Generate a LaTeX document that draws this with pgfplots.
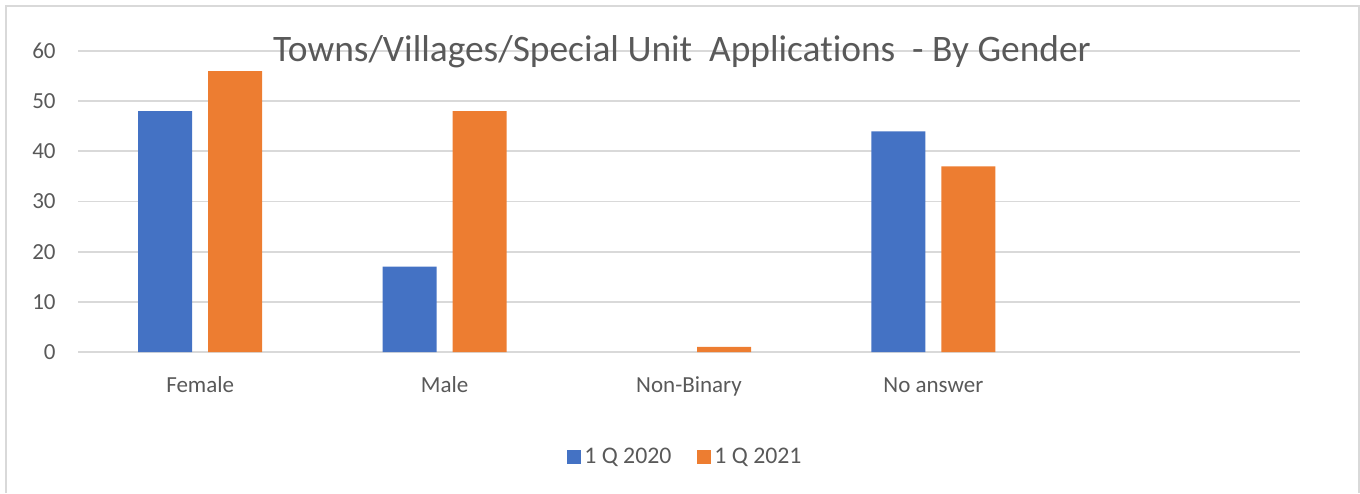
\documentclass[border=0pt]{standalone}
\usepackage{pgfplots}
\pgfplotsset{compat=1.18}
\usepackage{fontspec}
\setmainfont{Carlito}[Ligatures=NoCommon]
\definecolor{cblue}{HTML}{4472C4}
\definecolor{corange}{HTML}{ED7D31}
\definecolor{cgrid}{HTML}{D9D9D9}
\definecolor{ctext}{HTML}{595959}
\begin{document}
\begin{tikzpicture}
\useasboundingbox (0,0) rectangle (680pt,246.5pt);
\draw[cgrid, line width=0.75pt] (3pt,0) -- (3pt,243.5pt) -- (679.5pt,243.5pt) -- (679.5pt,0);
\begin{axis}[
  at={(39pt,70.5pt)}, anchor=south west,
  scale only axis, width=611pt, height=150.5pt,
  xmin=-0.5, xmax=4.5, ymin=0, ymax=60,
  xtick={0,1,2,3}, xticklabels={Female,Male,Non-Binary,No answer},
  ytick={0,10,...,60},
  major tick length=0pt,
  axis line style={draw=none},
  ymajorgrids, xmajorgrids=false,
  major grid style={cgrid, line width=0.9pt},
  /pgf/number format/assume math mode=true,
  yticklabel style={font=\fontsize{11.5pt}{13pt}\selectfont, text=ctext, anchor=east, inner sep=0pt, xshift=-11pt},
  xticklabel style={font=\fontsize{11.5pt}{13pt}\selectfont, text=ctext, anchor=base, inner sep=0pt, yshift=-20pt},
  ybar, bar width=27pt,
  legend style={at={(axis description cs:0.4975,-0.349)}, anchor=center, draw=none, fill=none,
    legend columns=-1, font=\fontsize{11.9pt}{13pt}\selectfont, text=ctext,
    /tikz/every even column/.append style={column sep=11.5pt},
    nodes={inner sep=1.5pt}},
  legend image code/.code={\fill[#1] (0pt,-3.5pt) rectangle (7pt,3.5pt);},
]
\addplot[fill=cblue, draw=none, bar shift=-17.5pt] coordinates {(0,48) (1,17) (3,44)};
\addplot[fill=corange, draw=none, bar shift=17.5pt] coordinates {(0,56) (1,48) (2,1) (3,37)};
\legend{1 Q 2020, 1 Q 2021}
\end{axis}
\node[anchor=base, inner sep=0pt, text=ctext, font=\fontsize{18.7pt}{21pt}\selectfont] at (341pt,215.5pt) {Towns/Villages/Special Unit\ \ Applications\ \ - By Gender};
\end{tikzpicture}
\end{document}
